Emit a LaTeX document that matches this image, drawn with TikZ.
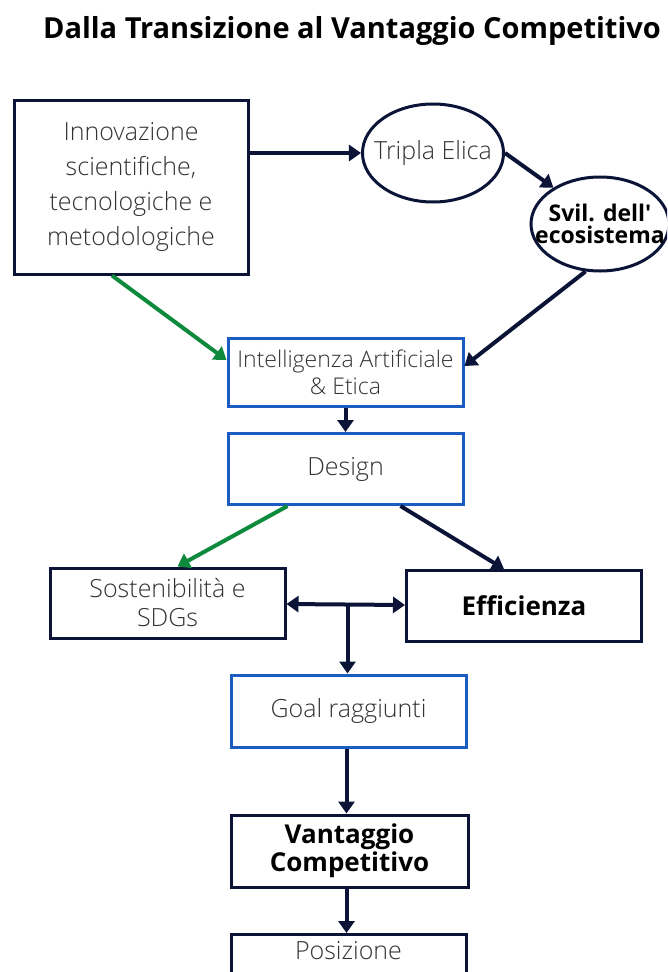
\documentclass[tikz,border=0pt]{standalone}
\usepackage{fontspec}
\setmainfont{Open Sans}
\newfontfamily\lightfont{Open Sans Light}
\usetikzlibrary{arrows.meta,shapes.geometric}
\definecolor{navy}{HTML}{0B1437}
\definecolor{bluebox}{HTML}{1A5CC0}
\definecolor{greenarr}{HTML}{0E8A3C}
\definecolor{txtgray}{HTML}{333333}
\tikzset{
  navybox/.style={draw=navy,line width=3pt,rectangle,fill=white,align=center,inner sep=0pt},
  bluebx/.style={draw=bluebox,line width=3pt,rectangle,fill=white,align=center,inner sep=0pt},
  ell/.style={draw=navy,line width=3pt,ellipse,fill=white,align=center,inner ysep=0pt},
  lighttxt/.style={font=\lightfont\fontsize{25}{30}\selectfont,text=txtgray},
  boldtxt/.style={font=\bfseries\fontsize{26}{28}\selectfont,text=black},
  arr/.style={draw=navy,line width=4pt,-{Triangle[length=12pt,width=16pt]}},
  garr/.style={draw=greenarr,line width=4pt,-{Triangle[length=12pt,width=16pt]}},
  darr/.style={draw=navy,line width=4pt,{Triangle[length=12pt,width=16pt]}-{Triangle[length=12pt,width=16pt]}}
}
\begin{document}
\begin{tikzpicture}[x=1pt,y=-1pt]
\useasboundingbox[fill=white] (0,0) rectangle (667,972);
\clip (0,0) rectangle (667,972);
\node[font=\bfseries\fontsize{29}{32}\selectfont,text=black] (title) at (352,31) {Dalla Transizione al Vantaggio Competitivo};
\node[navybox,minimum width=234pt,minimum height=174pt,lighttxt,font=\lightfont\fontsize{25}{35}\selectfont] (inn) at (131,187) {Innovazione\\scientifiche,\\tecnologiche e\\metodologiche};
\node[ell,inner xsep=-9pt,minimum height=98pt,lighttxt] (tri) at (433,153) {Tripla Elica};
\node[ell,inner xsep=-16pt,minimum height=94pt,font=\bfseries\fontsize{23}{22}\selectfont] (svil) at (600,224) {Svil. dell\textquotesingle\\ecosistema};
\node[bluebx,minimum width=235pt,minimum height=68pt,lighttxt,font=\lightfont\fontsize{23}{27}\selectfont] (ia) at (345.5,372) {Intelligenza Artificiale\\\& Etica};
\node[bluebx,minimum width=235pt,minimum height=71pt,lighttxt] (des) at (345.5,469) {Design};
\node[navybox,minimum width=235pt,minimum height=70pt,lighttxt,font=\lightfont\fontsize{25}{29}\selectfont] (sost) at (167.5,603) {Sostenibilità e\\SDGs};
\node[navybox,minimum width=235pt,minimum height=71pt,boldtxt] (eff) at (524,606) {Efficienza};
\node[bluebx,minimum width=235pt,minimum height=72pt,lighttxt] (goal) at (348.5,711) {Goal raggiunti};
\node[navybox,minimum width=237pt,minimum height=72pt,boldtxt] (vant) at (349.5,851) {Vantaggio\\Competitivo};
\node[navybox,minimum width=235pt,minimum height=70pt,lighttxt,anchor=north] (pos) at (348.5,933) {Posizione\\\strut};
\draw[arr] (inn.east |- tri.west) -- (tri.west);
\draw[arr] (tri.east) -- (svil.142);
\draw[arr] (svil.253) -- ([yshift=6pt]ia.east);
\draw[garr] ([xshift=-19pt]inn.south) -- ([yshift=12pt]ia.west);
\draw[arr] (ia.south) -- (des.north);
\draw[garr] ([xshift=-58pt]des.south) -- ([xshift=10pt]sost.north);
\draw[arr] ([xshift=55pt]des.south) -- ([xshift=-20pt]eff.north);
\draw[darr] ([yshift=-1pt]sost.east) -- ([yshift=1pt]eff.west);
\coordinate (j) at ([xshift=-1pt]goal.north |- eff.west);
\draw[arr] (j) -- ([xshift=-1pt]goal.north);
\draw[arr] ([xshift=-2pt]goal.south) -- ([xshift=-3pt]vant.north);
\draw[arr] ([xshift=-3pt]vant.south) -- ([xshift=-2pt]pos.north);
\end{tikzpicture}
\end{document}
